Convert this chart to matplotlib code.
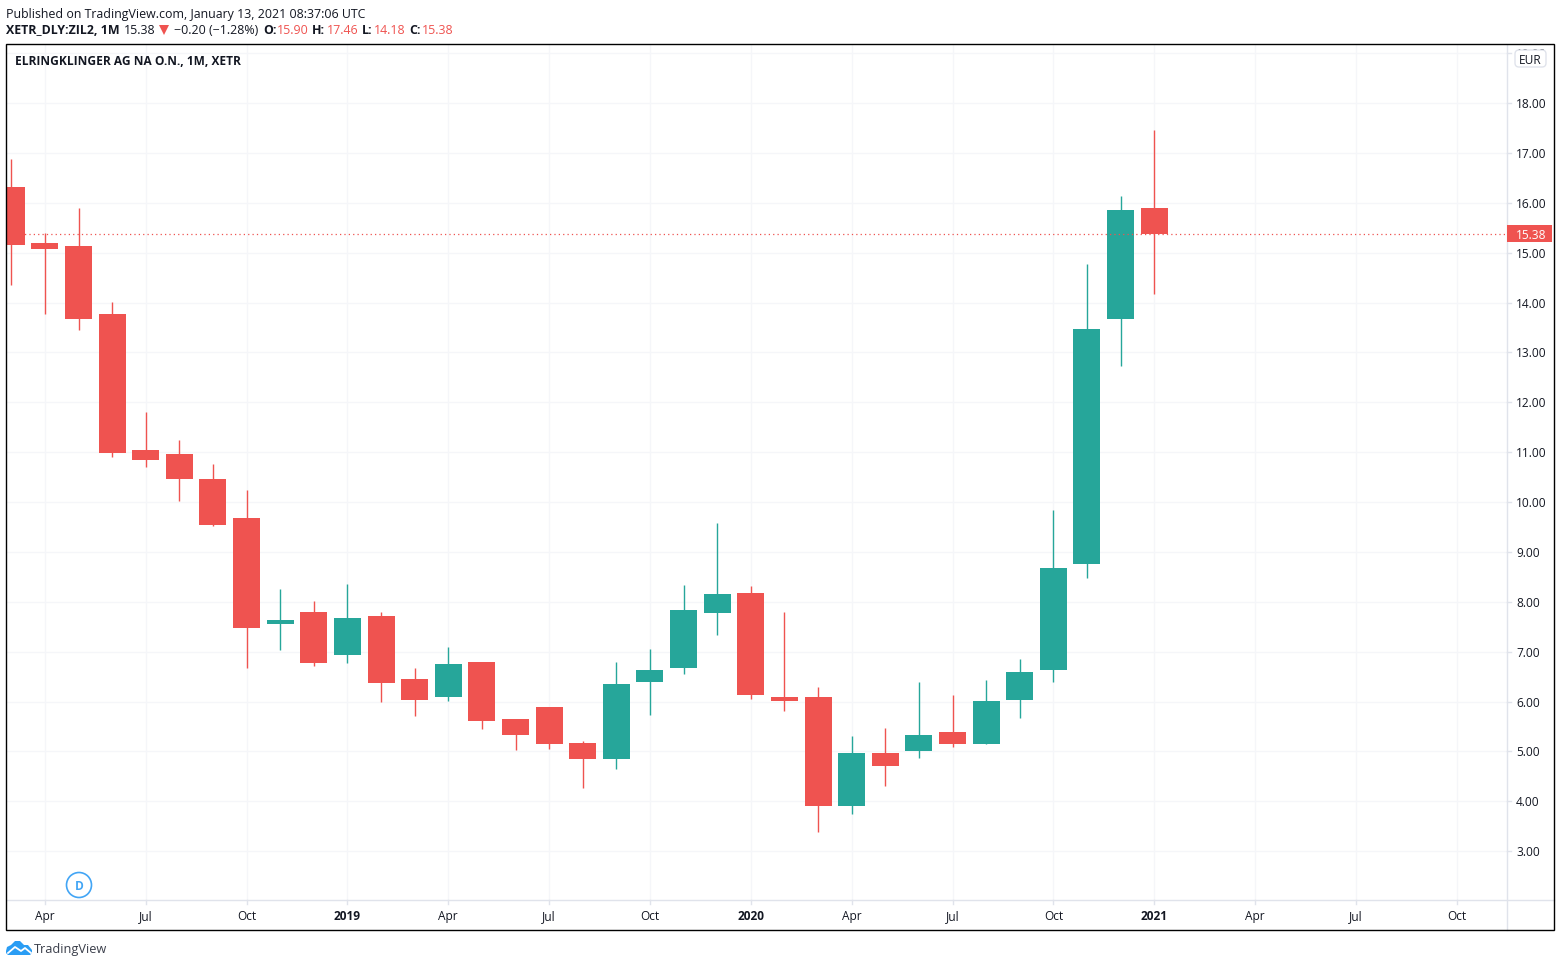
#!/usr/bin/env python3
"""Monatskerzen ElringKlinger, TradingView Look"""

import matplotlib
matplotlib.use("Agg")
import numpy as np
import matplotlib.pyplot as plt
from matplotlib.patches import Circle, Polygon, Rectangle, FancyBboxPatch

# ===== DATA =====
months = ["2018-03", "2018-04", "2018-05", "2018-06", "2018-07", "2018-08", "2018-09", "2018-10",
          "2018-11", "2018-12", "2019-01", "2019-02", "2019-03", "2019-04", "2019-05", "2019-06",
          "2019-07", "2019-08", "2019-09", "2019-10", "2019-11", "2019-12", "2020-01", "2020-02",
          "2020-03", "2020-04", "2020-05", "2020-06", "2020-07", "2020-08", "2020-09", "2020-10",
          "2020-11", "2020-12", "2021-01"]
opens = [16.32, 15.20, 15.14, 13.78, 11.05, 10.97, 10.47, 9.69,
         7.55, 7.80, 6.94, 7.72, 6.46, 6.10, 6.80, 5.64,
         5.90, 5.16, 4.84, 6.40, 6.68, 7.78, 8.18, 6.10,
         6.10, 3.91, 4.97, 5.00, 5.38, 5.14, 6.04, 6.64,
         8.76, 13.68, 15.90]
highs = [16.87, 15.40, 15.90, 14.02, 11.81, 11.25, 10.77, 10.25,
         8.26, 8.02, 8.36, 7.80, 6.68, 7.10, 6.80, 5.64,
         5.90, 5.20, 6.80, 7.06, 8.34, 9.59, 8.32, 7.80,
         6.30, 5.30, 5.47, 6.40, 6.14, 6.44, 6.86, 9.84,
         14.78, 16.14, 17.46]
lows = [14.36, 13.78, 13.46, 10.90, 10.71, 10.03, 9.51, 6.68,
        7.04, 6.72, 6.78, 6.00, 5.72, 6.02, 5.44, 5.02,
        5.04, 4.27, 4.64, 5.74, 6.56, 7.34, 6.06, 5.82,
        3.39, 3.75, 4.31, 4.86, 5.08, 5.14, 5.66, 6.40,
        8.48, 12.72, 14.18]
closes = [15.16, 15.08, 13.68, 10.99, 10.85, 10.47, 9.55, 7.48,
          7.63, 6.78, 7.68, 6.38, 6.04, 6.76, 5.60, 5.32,
          5.14, 4.84, 6.36, 6.64, 7.84, 8.16, 6.14, 6.02,
          3.90, 4.97, 4.70, 5.32, 5.14, 6.02, 6.60, 8.68,
          13.48, 15.86, 15.38]

time_ticks = [1, 4, 7, 10, 13, 16, 19, 22, 25, 28, 31, 34, 37, 40, 43]
time_labels = ["Apr", "Jul", "Oct", "2019", "Apr", "Jul", "Oct", "2020",
               "Apr", "Jul", "Oct", "2021", "Apr", "Jul", "Oct"]
price_ticks = [3, 4, 5, 6, 7, 8, 9, 10, 11, 12, 13, 14, 15, 16, 17, 18, 19]
last_price = 15.38

# ===== STYLE =====
RED = "#ef5350"
GREEN = "#26a69a"
GRID = "#f5f6f9"
AXIS = "#e0e3eb"
TEXT = "#131722"
BLUE = "#42a5f5"
W, H = 1560, 966
plt.rcParams["font.family"] = ["Open Sans", "DejaVu Sans"]

fig = plt.figure(figsize=(W / 100, H / 100), dpi=100)

# Overlay in Pixelkoordinaten fuer Rahmen, Kopfzeile, Logo
over = fig.add_axes([0, 0, 1, 1], zorder=5)
over.set_xlim(0, W)
over.set_ylim(H, 0)
over.axis("off")

# ===== CHART =====
left, right, top, bottom = 7, 1507, 44, 900
ax = fig.add_axes([left / W, 1 - bottom / H, (right - left) / W, (bottom - top) / H], zorder=1)

px_per_month = 33.615
x0 = 44.9 - px_per_month  # Pixel von Index 0
ax.set_xlim((left - x0) / px_per_month, (right - x0) / px_per_month)
px_per_eur = 49.87
y18 = 103.1
ax.set_ylim(18 - (bottom - y18) / px_per_eur, 18 + (y18 - top) / px_per_eur)

ax.set_xticks(time_ticks)
ax.set_yticks(price_ticks)
ax.set_xticklabels([])
ax.set_yticklabels([])
ax.tick_params(length=0)
ax.grid(True, color=GRID, linewidth=1)
ax.set_axisbelow(True)
for s in ax.spines.values():
    s.set_visible(False)

x = np.arange(len(months))
opens_a, closes_a = np.array(opens), np.array(closes)
colors = [GREEN if c >= o else RED for o, c in zip(opens_a, closes_a)]
ax.vlines(x, lows, highs, colors=colors, linewidth=1.0, zorder=3)
ax.bar(x, closes_a - opens_a, bottom=opens_a, width=27 / px_per_month, color=colors, linewidth=0, zorder=4)
ax.axhline(last_price, color=RED, linewidth=0.9, linestyle=(0, (1, 2.5)), zorder=5)

# ===== ACHSEN =====
over.plot([right, right], [44, 930], color=AXIS, lw=1)
over.plot([7, 1554], [bottom, bottom], color=AXIS, lw=1)

to_px_x = lambda v: x0 + v * px_per_month
to_px_y = lambda v: y18 + (18 - v) * px_per_eur

for t, lab in zip(time_ticks, time_labels):
    px = to_px_x(t)
    over.plot([px, px], [bottom, bottom + 4], color=AXIS, lw=1)
    bold = lab.isdigit()
    over.text(px, 915, lab, ha="center", va="center_baseline", fontsize=8.6, color=TEXT,
              fontweight="bold" if bold else "normal")

for p in price_ticks:
    py = to_px_y(p)
    over.plot([right, right + 4], [py, py], color=AXIS, lw=1)
    over.text(1516, py, f"{p:.2f}", ha="left", va="center_baseline", fontsize=8.6, color=TEXT)

# letzter Kurs
py = to_px_y(last_price)
over.add_patch(Rectangle((right, py - 9), 45, 17, facecolor=RED, edgecolor="none", zorder=6))
over.text(1516, py, f"{last_price:.2f}", ha="left", va="center_baseline", fontsize=8.6, color="white", zorder=7)

# EUR Box
over.add_patch(FancyBboxPatch((1515, 50), 31, 17, boxstyle="round,pad=0,rounding_size=4",
                              facecolor="white", edgecolor=AXIS, lw=1, zorder=6))
over.text(1530.5, 59, "EUR", ha="center", va="center_baseline", fontsize=8.6, color=TEXT, zorder=7)

# Rahmen
over.add_patch(Rectangle((6, 44), 1548, 886, fill=False, edgecolor="black", lw=1, zorder=8))
# 19.00 wird oben vom Rahmen abgeschnitten
over.add_patch(Rectangle((1507, 38), 50, 6, facecolor="white", edgecolor="none", zorder=7))

# ===== TEXTE =====
over.text(15, 60, "ELRINGKLINGER AG NA O.N., 1M, XETR", ha="left", va="center_baseline",
          fontsize=8.55, fontweight="bold", color=TEXT)
over.text(6, 13, "Published on TradingView.com, January 13, 2021 08:37:06 UTC", ha="left", va="center_baseline",
          fontsize=8.9, color=TEXT)

header = [
    (6, "XETR_DLY:ZIL2, 1M", TEXT, "bold"),
    (124, "15.38", TEXT, "normal"),
    (174, "\u22120.20 (\u22121.28%)", TEXT, "normal"),
    (263, "O:", TEXT, "bold"),
    (277, "15.90", RED, "normal"),
    (312, "H:", TEXT, "bold"),
    (327, "17.46", RED, "normal"),
    (362, "L:", TEXT, "bold"),
    (373.5, "14.18", RED, "normal"),
    (409, "C:", TEXT, "bold"),
    (422, "15.38", RED, "normal"),
]
for hx, s, c, w in header:
    over.text(hx, 29.5, s, ha="left", va="center_baseline", fontsize=8.9, color=c, fontweight=w)
over.add_patch(Polygon([(159, 25), (169, 25), (164, 35)], closed=True, facecolor=RED, edgecolor="none"))

# D Marker
over.add_patch(Circle((79, 885), 12.5, facecolor="white", edgecolor=BLUE, lw=1.2, zorder=6))
over.text(79, 884.5, "D", ha="center", va="center_baseline", fontsize=8.6, fontweight="bold", color=BLUE, zorder=7)

# Logo
cloud = [(6, 951), (7, 947), (11, 945), (15, 941), (20, 941), (24, 945), (28, 945), (32, 950),
         (32, 953), (30, 955), (8, 955), (6, 953)]
over.add_patch(Polygon(cloud, closed=True, facecolor="#2a9df4", edgecolor="none"))
over.plot([8, 15, 21, 25, 31], [953, 947, 951, 948, 953], color="white", lw=1.3)
over.text(34, 947.5, "TradingView", ha="left", va="center_baseline", fontsize=9.2, color="#3a3e4a")

fig.savefig("out.png", dpi=100, facecolor="white")
